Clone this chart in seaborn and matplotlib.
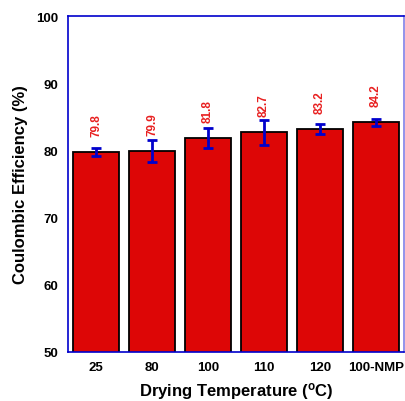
import matplotlib
matplotlib.use("Agg")
import matplotlib.pyplot as plt
import seaborn as sns
import numpy as np
import pandas as pd

categories = ["25", "80", "100", "110", "120", "100-NMP"]
efficiency = [79.8, 79.9, 81.8, 82.7, 83.2, 84.2]
errors = [0.6, 1.7, 1.5, 1.85, 0.8, 0.5]
value_labels = ["79.8", "79.9", "81.8", "82.7", "83.2", "84.2"]

sns.set_theme(style="white", rc={"text.color": "black",
                                 "axes.labelcolor": "black",
                                 "xtick.color": "black",
                                 "ytick.color": "black"})
plt.rcParams["font.family"] = ["Liberation Sans", "DejaVu Sans"]
plt.rcParams["mathtext.default"] = "regular"

df = pd.DataFrame({"temp": categories, "ce": efficiency})

fig = plt.figure(figsize=(4.05, 4.02), dpi=100)
ax = fig.add_axes([68 / 405, 1 - 353 / 402, 336 / 405, 336 / 402])

sns.barplot(data=df, x="temp", y="ce", ax=ax, color="#DD0606",
            saturation=1, width=0.82, edgecolor="black", linewidth=1.3,
            errorbar=None, zorder=2)
xs = np.arange(len(categories))
ax.errorbar(xs, efficiency, yerr=errors, fmt="none", ecolor="#0000CC",
            elinewidth=2, capsize=3.5, capthick=2, zorder=3)

for x, v, lab in zip(xs, efficiency, value_labels):
    ax.text(x, v + 4.1, lab, rotation=90, ha="center", va="center",
            color="#E82020", fontsize=8.5, fontweight="bold")

ax.set_ylim(50, 100)
ax.set_xlim(-0.5, 5.5)
ax.set_yticks([50, 60, 70, 80, 90, 100])
ax.set_yticks(np.arange(50, 101, 2), minor=True)
ax.set_yticklabels(["50", "60", "70", "80", "90", "100"],
                   fontsize=9.5, fontweight="bold", color="black")
ax.tick_params(axis="y", which="major", direction="in", length=5, width=1,
               color="#0000CC", pad=7)
ax.tick_params(axis="y", which="minor", direction="in", length=3, width=1,
               color="#0000CC")

# x axis: major ticks at category boundaries, minor ticks in between
ax.set_xticks(np.arange(-0.5, 5.6, 1.0))
ax.set_xticklabels([])
minor = []
for c in xs:
    minor += [c - 0.3, c - 0.1, c + 0.1, c + 0.3]
ax.set_xticks(minor, minor=True)
ax.tick_params(axis="x", which="major", direction="in", length=6, width=1,
               color="#0000CC")
ax.tick_params(axis="x", which="minor", direction="in", length=3, width=1,
               color="#0000CC")
for x, lab in zip(xs, categories):
    ax.text(x, -0.045, lab, transform=ax.get_xaxis_transform(),
            ha="center", va="center", fontsize=9.5, fontweight="bold",
            color="black")

ax.set_xlabel(r"Drying Temperature ($^{o}$C)", fontsize=12,
              fontweight="bold", labelpad=17, color="black")
ax.set_ylabel("Coulombic Efficiency (%)", fontsize=12, fontweight="bold",
              labelpad=6, color="black")

for side in ["left", "top", "bottom"]:
    ax.spines[side].set_color("#0000CC")
    ax.spines[side].set_linewidth(1.2)
ax.spines["right"].set_color("#8080E8")
ax.spines["right"].set_linewidth(1.2)

fig.savefig("out.png", dpi=100)
